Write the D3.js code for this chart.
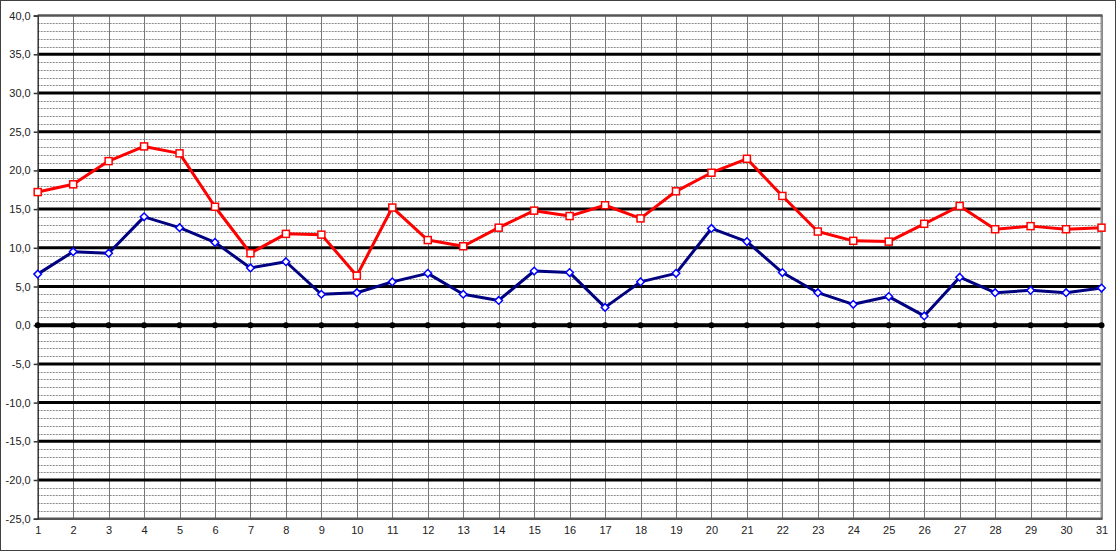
<!DOCTYPE html>
<html><head><meta charset="utf-8"><title>Chart</title>
<style>
  body { margin: 0; background: #fff; }
  svg { display: block; font-family: 'Liberation Sans', Arial, sans-serif; }
</style>
</head>
<body>
<svg id="chart" width="1116" height="551"></svg>
<script src="https://d3js.org/d3.v7.min.js"></script>
<script>
// days of the month
const days = d3.range(1, 32);

// red series (squares)
const redVals = [17.2, 18.2, 21.2, 23.1, 22.2, 15.3, 9.3, 11.8, 11.7, 6.4,
                 15.2, 11.0, 10.2, 12.6, 14.8, 14.1, 15.5, 13.8, 17.3, 19.7,
                 21.5, 16.7, 12.1, 10.9, 10.8, 13.1, 15.4, 12.4, 12.8, 12.4, 12.6];

// blue series (diamonds)
const blueVals = [6.6, 9.5, 9.3, 14.0, 12.6, 10.7, 7.4, 8.2, 4.0, 4.2,
                  5.6, 6.7, 4.0, 3.2, 7.0, 6.8, 2.3, 5.6, 6.7, 12.5,
                  10.8, 6.8, 4.2, 2.7, 3.7, 1.2, 6.2, 4.2, 4.5, 4.2, 4.8];

// zero reference series
const zeroVals = days.map(() => 0);

const yMin = -25, yMax = 40;
const majorTicks = d3.range(yMin, yMax + 0.1, 5);
const minorTicks = d3.range(yMin, yMax + 0.1, 1).filter(v => v % 5 !== 0);

const W = 1116, H = 551;
const plot = {left: 37.7, right: 1101.5, top: 15.6, bottom: 518.7};

const svg = d3.select("#chart");

const x = d3.scaleLinear().domain([1, 31]).range([plot.left, plot.right]);
const y = d3.scaleLinear().domain([yMin, yMax]).range([plot.bottom, plot.top]);

const loc = d3.formatLocale({decimal: ",", thousands: ".", grouping: [3], currency: ["", ""], minus: "-"});
const fmt = loc.format(".1f");

// outer frame
svg.append("rect")
  .attr("x", 0.5).attr("y", 0.5)
  .attr("width", W - 1).attr("height", H - 1)
  .attr("fill", "#fff").attr("stroke", "#404040").attr("stroke-width", 1);

// minor horizontal grid (dashed)
svg.append("g").selectAll("line").data(minorTicks).join("line")
  .attr("x1", plot.left).attr("x2", plot.right)
  .attr("y1", d => Math.round(y(d)) + 0.5).attr("y2", d => Math.round(y(d)) + 0.5)
  .attr("stroke", "#8a8a8a").attr("stroke-width", 1)
  .attr("stroke-dasharray", "2,1");

// vertical grid
svg.append("g").selectAll("line").data(days.slice(1)).join("line")
  .attr("x1", d => Math.round(x(d)) + 0.5).attr("x2", d => Math.round(x(d)) + 0.5)
  .attr("y1", plot.top).attr("y2", plot.bottom)
  .attr("stroke", "#777").attr("stroke-width", 1);

// major horizontal grid
svg.append("g").selectAll("line").data(majorTicks.filter(d => d !== yMin && d !== yMax && d !== 0)).join("line")
  .attr("x1", plot.left).attr("x2", plot.right)
  .attr("y1", d => y(d)).attr("y2", d => y(d))
  .attr("stroke", "#000").attr("stroke-width", 3);

// plot border
svg.append("line").attr("x1", plot.right).attr("x2", plot.right)
  .attr("y1", plot.top).attr("y2", plot.bottom)
  .attr("stroke", "#999").attr("stroke-width", 2);
svg.append("line").attr("x1", plot.left).attr("x2", plot.right + 1)
  .attr("y1", plot.top).attr("y2", plot.top)
  .attr("stroke", "#555").attr("stroke-width", 2.5);
svg.append("line").attr("x1", plot.left).attr("x2", plot.right + 1)
  .attr("y1", plot.bottom).attr("y2", plot.bottom)
  .attr("stroke", "#555").attr("stroke-width", 2.5);

// y axis
const yAxis = svg.append("g")
  .attr("transform", `translate(${plot.left},0)`)
  .call(d3.axisLeft(y).tickValues(majorTicks).tickFormat(fmt).tickSize(4).tickPadding(3));
yAxis.select(".domain").attr("stroke", "#333").attr("stroke-width", 1.5);
yAxis.selectAll(".tick line").attr("stroke", "#333").attr("stroke-width", 1.5);
yAxis.selectAll("text").attr("font-size", 11).attr("fill", "#222");

// x axis labels
const xAxis = svg.append("g")
  .attr("transform", `translate(0,${plot.bottom})`)
  .call(d3.axisBottom(x).tickValues(days).tickFormat(d3.format("d")).tickSize(0).tickPadding(8));
xAxis.select(".domain").remove();
xAxis.selectAll("text").attr("font-size", 11).attr("fill", "#222");

const line = d3.line().x((d, i) => x(days[i])).y(d => y(d));

// zero series
svg.append("path").datum(zeroVals)
  .attr("d", line).attr("fill", "none")
  .attr("stroke", "#000").attr("stroke-width", 4);
svg.append("g").selectAll("circle").data(zeroVals).join("circle")
  .attr("cx", (d, i) => x(days[i])).attr("cy", d => y(d))
  .attr("r", 3).attr("fill", "#000");

// red series
svg.append("path").datum(redVals)
  .attr("d", line).attr("fill", "none")
  .attr("stroke", "#ff0000").attr("stroke-width", 3)
  .attr("stroke-linejoin", "round");
svg.append("g").selectAll("rect").data(redVals).join("rect")
  .attr("x", (d, i) => x(days[i]) - 3.5).attr("y", d => y(d) - 3.5)
  .attr("width", 7).attr("height", 7)
  .attr("fill", "#fff").attr("stroke", "#ff0000").attr("stroke-width", 1.5);

// blue series
svg.append("path").datum(blueVals)
  .attr("d", line).attr("fill", "none")
  .attr("stroke", "#000080").attr("stroke-width", 3)
  .attr("stroke-linejoin", "round");
svg.append("g").selectAll("path").data(blueVals).join("path")
  .attr("transform", (d, i) => `translate(${x(days[i])},${y(d)})`)
  .attr("d", "M0,-3.8L3.8,0L0,3.8L-3.8,0Z")
  .attr("fill", "#fff").attr("stroke", "#0000ff").attr("stroke-width", 1.5);
</script>
</body>
</html>
